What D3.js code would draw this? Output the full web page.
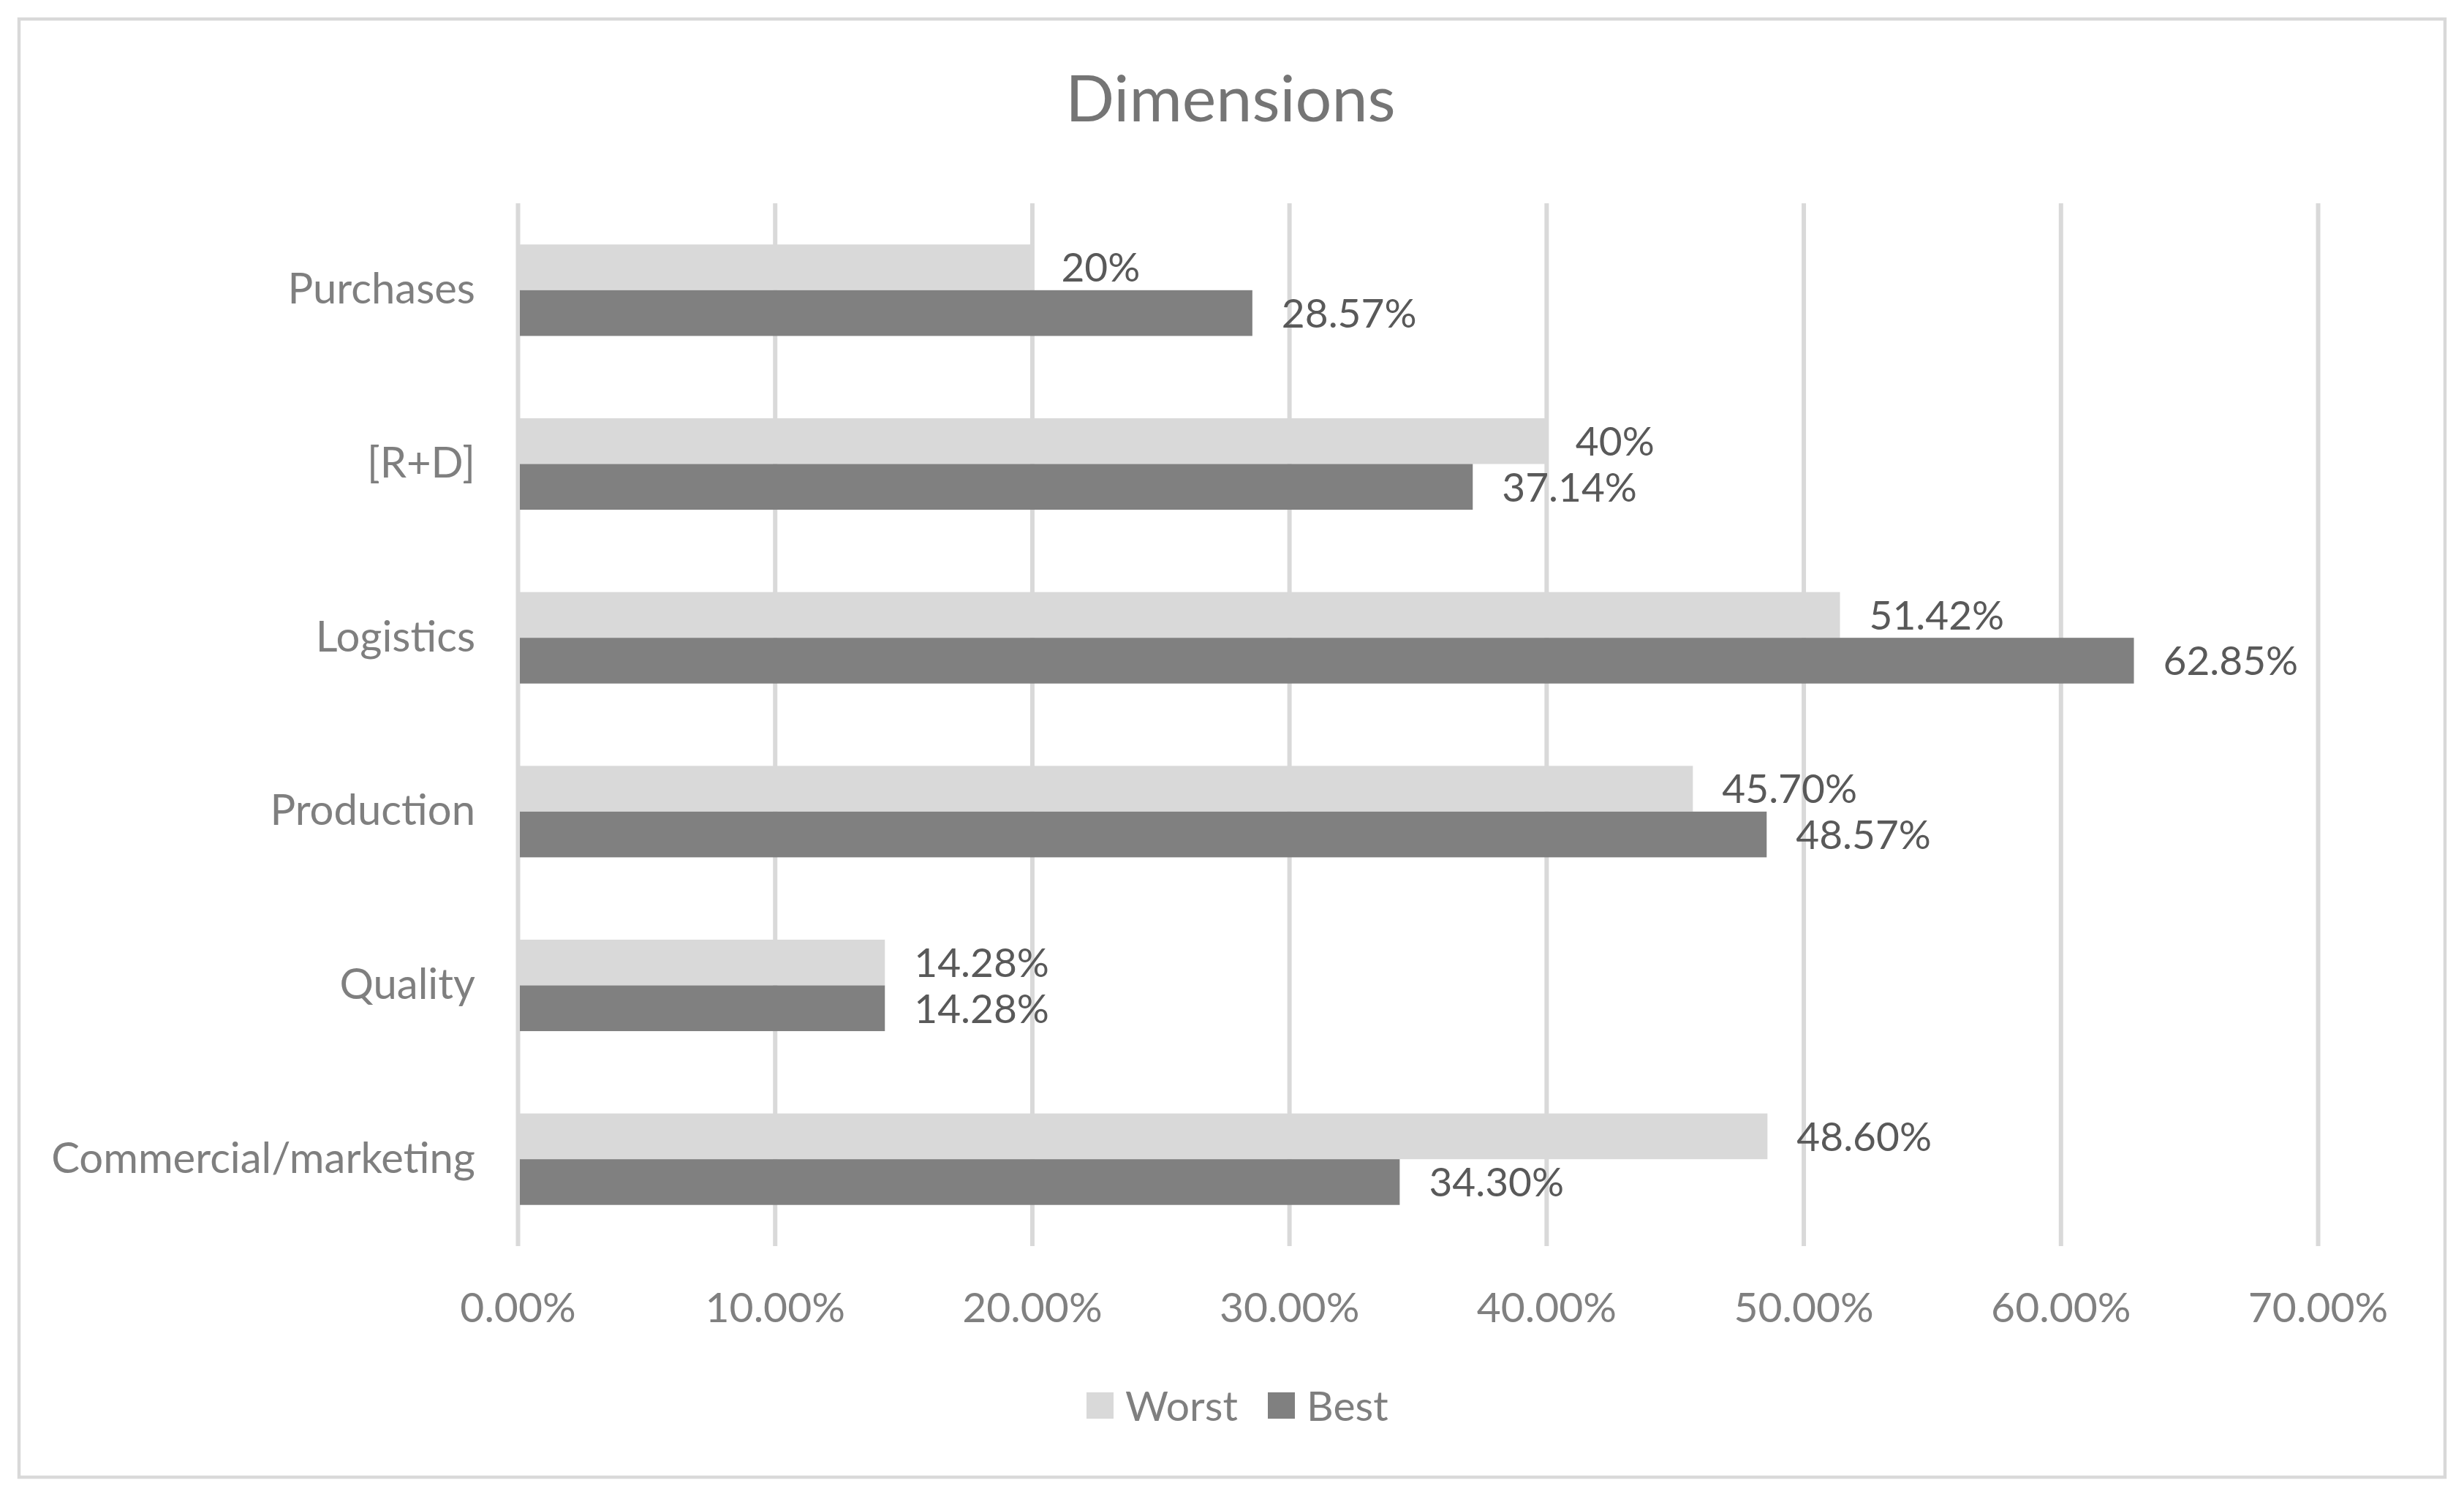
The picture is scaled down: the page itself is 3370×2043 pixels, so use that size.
<!DOCTYPE html>
<html><head><meta charset="utf-8">
<script src="https://cdn.jsdelivr.net/npm/d3@7"></script>
<style>html,body{margin:0;padding:0;background:#fff;}svg{display:block;}</style>
</head><body>
<svg id="chart" width="3370" height="2043"></svg>
<script>
const categories = ["Purchases", "[R+D]", "Logistics", "Production", "Quality", "Commercial/marketing"];
const worstValues = [0.20, 0.40, 0.5142, 0.4570, 0.1428, 0.4860];
const bestValues = [0.2857, 0.3714, 0.6285, 0.4857, 0.1428, 0.3430];
const worstLabels = ["20%", "40%", "51.42%", "45.70%", "14.28%", "48.60%"];
const bestLabels = ["28.57%", "37.14%", "62.85%", "48.57%", "14.28%", "34.30%"];
const tickValues = [0, 0.1, 0.2, 0.3, 0.4, 0.5, 0.6, 0.7];
const seriesNames = ["Worst", "Best"];
const seriesColors = ["#d9d9d9", "#808080"];
const chartTitle = "Dimensions";

(function () {
const FONT = "Lato, 'Open Sans', sans-serif";
const svg = d3.select("#chart");

svg.append("rect").attr("x", 26).attr("y", 26).attr("width", 3318).attr("height", 1994)
  .attr("fill", "#fff").attr("stroke", "#d9d9d9").attr("stroke-width", 4.5);

const pLeft = 708, pRight = 3170, pTop = 278, pBottom = 1704;
const x = d3.scaleLinear().domain([0, 0.7]).range([pLeft, pRight]);
const y = d3.scaleBand().domain(categories).range([pTop, pBottom]).paddingInner(0).paddingOuter(0);
const groupH = y.bandwidth() / 1.9;
const ySub = d3.scaleBand().domain(seriesNames).range([0, groupH]);

// gridlines
const grid = svg.append("g").attr("transform", `translate(0,${pBottom})`)
  .call(d3.axisBottom(x).tickValues(tickValues).tickSize(-(pBottom - pTop)).tickFormat(""));
grid.select(".domain").remove();
grid.selectAll(".tick line").attr("stroke", "#d9d9d9").attr("stroke-width", 6);

// x tick labels
const xAx = svg.append("g").attr("transform", `translate(0,${pBottom})`)
  .call(d3.axisBottom(x).tickValues(tickValues).tickSize(0).tickPadding(64).tickFormat(d3.format(".2%")));
xAx.select(".domain").remove();
xAx.selectAll("text").attr("font-family", FONT).attr("font-size", 57).attr("fill", "#808080");

// y labels
const yAx = svg.append("g").attr("transform", `translate(${pLeft},0)`)
  .call(d3.axisLeft(y).tickSize(0).tickPadding(58));
yAx.select(".domain").remove();
yAx.selectAll("text").attr("font-family", FONT).attr("font-size", 58).attr("fill", "#7f7f7f");

const series = [
  {name: "Worst", values: worstValues, labels: worstLabels, color: seriesColors[0]},
  {name: "Best", values: bestValues, labels: bestLabels, color: seriesColors[1]}
];

series.forEach(s => {
  const off = (y.bandwidth() - groupH) / 2 + ySub(s.name);
  svg.append("g").selectAll("rect").data(categories).join("rect")
    .attr("x", x(0) + 3)
    .attr("y", (c) => y(c) + off)
    .attr("width", (c, i) => x(s.values[i]) - x(0) - 3)
    .attr("height", ySub.bandwidth())
    .attr("fill", s.color);
  svg.append("g").selectAll("text").data(categories).join("text")
    .attr("x", (c, i) => x(s.values[i]) + 40)
    .attr("y", (c) => y(c) + off + ySub.bandwidth() / 2)
    .attr("dy", "0.36em")
    .attr("font-family", FONT).attr("font-size", 55).attr("fill", "#595959")
    .text((c, i) => s.labels[i]);
});

// title
svg.append("text").attr("x", 1683).attr("y", 166).attr("text-anchor", "middle")
  .attr("font-family", FONT).attr("font-size", 88).attr("fill", "#757575").text(chartTitle);

// legend
const legend = svg.append("g");
const legendItems = [{name: "Worst", color: seriesColors[0], x: 1486}, {name: "Best", color: seriesColors[1], x: 1734}];
legendItems.forEach(it => {
  legend.append("rect").attr("x", it.x).attr("y", 1904).attr("width", 37).attr("height", 36).attr("fill", it.color);
  legend.append("text").attr("x", it.x + 53).attr("y", 1922).attr("dy", "0.36em")
    .attr("font-family", FONT).attr("font-size", 57).attr("fill", "#7f7f7f").text(it.name);
});
})();
</script>
</body></html>
